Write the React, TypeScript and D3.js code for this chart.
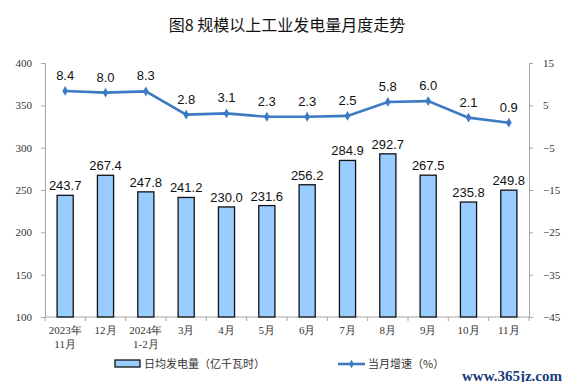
import { useEffect, useRef } from "react";
import * as d3 from "d3";

const categories = [
  ["2023年", "11月"], ["12月"], ["2024年", "1-2月"], ["3月"], ["4月"], ["5月"],
  ["6月"], ["7月"], ["8月"], ["9月"], ["10月"], ["11月"],
];
const dailyOutput = [243.7, 267.4, 247.8, 241.2, 230.0, 231.6, 256.2, 284.9, 292.7, 267.5, 235.8, 249.8];
const growth = [8.4, 8.0, 8.3, 2.8, 3.1, 2.3, 2.3, 2.5, 5.8, 6.0, 2.1, 0.9];
const leftTicks = [100, 150, 200, 250, 300, 350, 400];
const rightTicks = [-45, -35, -25, -15, -5, 5, 15];

const App = () => {
  const svgRef = useRef<SVGSVGElement>(null);

  useEffect(() => {
    const svg = d3.select(svgRef.current);
    svg.selectAll("*").remove();

    const W = 570, H = 390;
    const margin = { top: 63, right: 41, bottom: 73, left: 45 };
    const width = W - margin.left - margin.right;
    const height = H - margin.top - margin.bottom;
    const axisColor = "#a6a6a6";
    const lineColor = "#3c7bc4";
    const serif = "'Liberation Serif', 'DejaVu Serif', serif";
    const sans = "'Liberation Sans', Arial, sans-serif";
    const cjk = "'Noto Sans CJK SC', sans-serif";

    svg.attr("width", W).attr("height", H);

    svg.append("text")
      .attr("x", 287).attr("y", 31)
      .attr("text-anchor", "middle")
      .style("font-family", cjk)
      .style("font-size", "16px")
      .style("font-weight", "400")
      .attr("fill", "#111")
      .text("图8  规模以上工业发电量月度走势");

    const g = svg.append("g").attr("transform", `translate(${margin.left},${margin.top})`);

    const idx = categories.map((_, i) => String(i));
    const x = d3.scaleBand().domain(idx).range([0, width]).paddingInner(0.6).paddingOuter(0.3);
    const yL = d3.scaleLinear().domain([100, 400]).range([height, 0]);
    const yR = d3.scaleLinear().domain([-45, 15]).range([height, 0]);

    // left axis
    const la = g.append("g").call(d3.axisLeft(yL).tickValues(leftTicks).tickSize(4).tickFormat(d3.format("d")));
    la.select(".domain").attr("stroke", axisColor);
    la.selectAll("line").attr("stroke", axisColor);
    la.selectAll("text").style("font-family", serif).style("font-size", "11px").attr("fill", "#333").attr("x", -13);

    // right axis
    const ra = g.append("g").attr("transform", `translate(${width},0)`)
      .call(d3.axisRight(yR).tickValues(rightTicks).tickSize(4).tickFormat(d3.format("d")));
    ra.select(".domain").attr("stroke", axisColor);
    ra.selectAll("line").attr("stroke", axisColor);
    ra.selectAll("text").style("font-family", serif).style("font-size", "11px").attr("fill", "#333").attr("x", 14);

    // bottom axis line + ticks at band boundaries
    g.append("line").attr("x1", 0).attr("x2", width).attr("y1", height).attr("y2", height).attr("stroke", axisColor);
    const step = x.step();
    const bx0 = (x("0") || 0) - x.paddingInner() * step / 2;
    for (let i = 0; i <= categories.length; i++) {
      const tx = bx0 + i * step;
      g.append("line").attr("x1", tx).attr("x2", tx).attr("y1", height).attr("y2", height + 4).attr("stroke", axisColor);
    }

    // category labels
    categories.forEach((lines, i) => {
      const cx = (x(String(i)) || 0) + x.bandwidth() / 2;
      lines.forEach((t, j) => {
        g.append("text")
          .attr("x", cx).attr("y", height + 17 + j * 14)
          .attr("text-anchor", "middle")
          .style("font-family", serif)
          .style("font-size", "11px")
          .attr("fill", "#333")
          .text(t);
      });
    });

    // bars
    g.selectAll(".bar").data(dailyOutput).enter().append("rect")
      .attr("x", (_, i) => x(String(i)) || 0)
      .attr("y", (d) => yL(d))
      .attr("width", x.bandwidth())
      .attr("height", (d) => height - yL(d))
      .attr("fill", "#99ccff")
      .attr("stroke", "#111")
      .attr("stroke-width", 1.3);

    g.selectAll(".barlabel").data(dailyOutput).enter().append("text")
      .attr("x", (_, i) => (x(String(i)) || 0) + x.bandwidth() / 2)
      .attr("y", (d) => yL(d) - 5)
      .attr("text-anchor", "middle")
      .style("font-family", sans)
      .style("font-size", "13px")
      .attr("fill", "#111")
      .text((d) => d.toFixed(1));

    // line
    const line = d3.line<number>()
      .x((_, i) => (x(String(i)) || 0) + x.bandwidth() / 2)
      .y((d) => yR(d));
    g.append("path").datum(growth).attr("d", line).attr("fill", "none").attr("stroke", lineColor).attr("stroke-width", 2.6);

    g.selectAll(".pt").data(growth).enter().append("path")
      .attr("transform", (d, i) => `translate(${(x(String(i)) || 0) + x.bandwidth() / 2},${yR(d)})`)
      .attr("d", d3.symbol(d3.symbolDiamond, 28)())
      .attr("fill", lineColor);

    g.selectAll(".ptlabel").data(growth).enter().append("text")
      .attr("x", (_, i) => (x(String(i)) || 0) + x.bandwidth() / 2)
      .attr("y", (d) => yR(d) - 11)
      .attr("text-anchor", "middle")
      .style("font-family", sans)
      .style("font-size", "13px")
      .attr("fill", "#111")
      .text((d) => d.toFixed(1));

    // legend
    const lg = svg.append("g");
    lg.append("rect").attr("x", 115).attr("y", 360).attr("width", 25).attr("height", 7)
      .attr("fill", "#99ccff").attr("stroke", "#111").attr("stroke-width", 1.3);
    lg.append("text").attr("x", 144).attr("y", 368)
      .style("font-family", cjk).style("font-size", "11px").attr("fill", "#333")
      .text("日均发电量（亿千瓦时）");
    lg.append("line").attr("x1", 338).attr("x2", 365).attr("y1", 364).attr("y2", 364)
      .attr("stroke", lineColor).attr("stroke-width", 2.6);
    lg.append("path").attr("transform", "translate(351.5,364)").attr("d", d3.symbol(d3.symbolDiamond, 20)()).attr("fill", lineColor);
    lg.append("text").attr("x", 368).attr("y", 368)
      .style("font-family", cjk).style("font-size", "11px").attr("fill", "#333")
      .text("当月增速（%）");

    svg.append("text").attr("x", 562).attr("y", 381).attr("text-anchor", "end")
      .style("font-family", serif).style("font-size", "15px").style("font-weight", "bold")
      .attr("fill", "#1a3a7a")
      .text("www.365jz.com");
  }, []);

  return (
    <div style={{ margin: -8 }}>
      <svg ref={svgRef} style={{ display: "block", background: "#fff" }}></svg>
    </div>
  );
};

export default App;
